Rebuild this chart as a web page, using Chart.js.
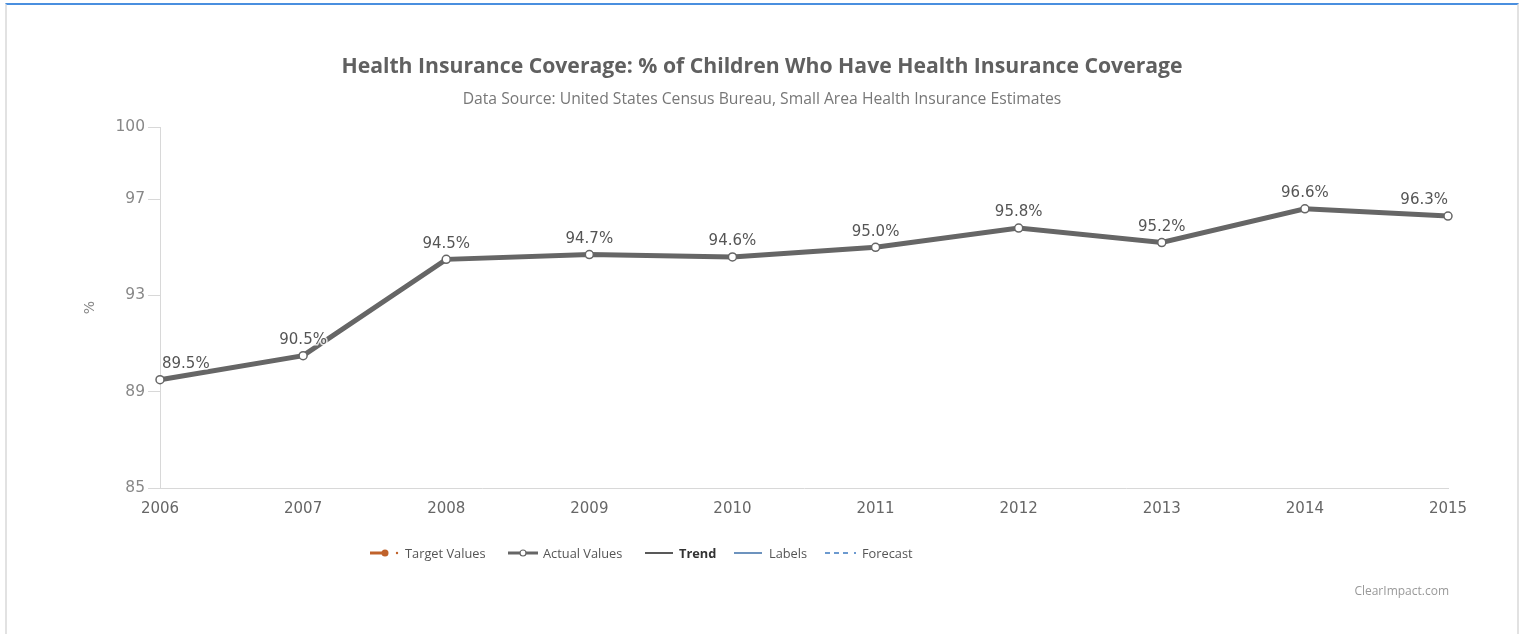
<!DOCTYPE html>
<html>
<head>
<meta charset="utf-8">
<script src="https://cdn.jsdelivr.net/npm/chart.js@4.4.1/dist/chart.umd.min.js"></script>
<style>
    html, body { margin: 0; padding: 0; background: #fff; }
    body { width: 1520px; height: 634px; position: relative; overflow: hidden; font-family: 'Open Sans', sans-serif; }
    .frame { position: absolute; left: 5px; top: 3px; width: 1510px; height: 640px; border-top: 2px solid #4a8fdf; border-left: 2px solid #e2e2e2; border-right: 2px solid #e2e2e2; }
    #chartWrap { position: absolute; left: 0; top: 0; width: 1520px; height: 634px; }
    .legend-item { position: absolute; top: 544px; display: flex; align-items: center; font-size: 12.8px; color: #555; white-space: nowrap; }
    .legend-item svg { position: absolute; top: 4px; }
    .credit { position: absolute; right: 71px; top: 582px; font-size: 12px; color: #999; }
</style>
</head>
<body>
<div class="frame"></div>
<div id="chartWrap"><canvas id="coverageChart" width="1520" height="634"></canvas></div>
<div class="legend-item" style="left:370px"><svg width="30" height="10"><line x1="0" y1="5" x2="18" y2="5" stroke="#c0622b" stroke-width="3"/><circle cx="15" cy="5" r="3.5" fill="#c0622b"/><circle cx="27" cy="5" r="1.2" fill="#c0622b"/></svg><span style="margin-left:35px">Target Values</span></div>
<div class="legend-item" style="left:508px"><svg width="32" height="10"><line x1="0" y1="5" x2="30" y2="5" stroke="#666" stroke-width="3"/><circle cx="15" cy="5" r="3" fill="#fff" stroke="#666" stroke-width="1.2"/></svg><span style="margin-left:35px">Actual Values</span></div>
<div class="legend-item" style="left:645px"><svg width="30" height="10"><line x1="0" y1="5" x2="28" y2="5" stroke="#222" stroke-width="1.5"/></svg><b style="margin-left:34px;color:#333">Trend</b></div>
<div class="legend-item" style="left:734px"><svg width="30" height="10"><line x1="0" y1="5" x2="28" y2="5" stroke="#3d6fa8" stroke-width="1.5"/></svg><span style="margin-left:35px">Labels</span></div>
<div class="legend-item" style="left:825px"><svg width="34" height="10"><line x1="0" y1="5" x2="25" y2="5" stroke="#3d79c0" stroke-width="1.5" stroke-dasharray="5,4"/><circle cx="30" cy="5" r="1" fill="#3d79c0"/></svg><span style="margin-left:37px">Forecast</span></div>
<div class="credit">ClearImpact.com</div>
<script>
    const years = ['2006', '2007', '2008', '2009', '2010', '2011', '2012', '2013', '2014', '2015'];
    const actualValues = [89.5, 90.5, 94.5, 94.7, 94.6, 95.0, 95.8, 95.2, 96.6, 96.3];
    const yTicks = [85, 89, 93, 97, 100];

    const chartTitle = 'Health Insurance Coverage: % of Children Who Have Health Insurance Coverage';
    const chartSubtitle = 'Data Source: United States Census Bureau, Small Area Health Insurance Estimates';
    const tickFont = "'DejaVu Sans', sans-serif";

    // titles + point labels drawn by hand
    const textPlugin = {
        id: 'textPlugin',
        afterDraw(chart) {
            const ctx = chart.ctx;
            ctx.save();
            ctx.textAlign = 'center';
            ctx.textBaseline = 'middle';
            ctx.fillStyle = '#606060';
            ctx.font = "bold 21.2px 'Open Sans', sans-serif";
            ctx.fillText(chartTitle, 762, 67);
            ctx.fillStyle = '#777';
            ctx.font = "15.7px 'Open Sans', sans-serif";
            ctx.fillText(chartSubtitle, 762, 100);

            // value labels
            const area = chart.chartArea;
            const meta = chart.getDatasetMeta(0);
            ctx.font = "15px " + tickFont;
            ctx.textBaseline = 'bottom';
            meta.data.forEach((pt, i) => {
                const txt = actualValues[i].toFixed(1) + '%';
                const w = ctx.measureText(txt).width;
                let x = pt.x;
                if (x - w / 2 < area.left + 2) x = area.left + 2 + w / 2;
                if (x + w / 2 > area.right) x = area.right - w / 2;
                ctx.lineWidth = 3;
                ctx.strokeStyle = 'rgba(255,255,255,0.8)';
                ctx.strokeText(txt, x, pt.y - 8);
                ctx.fillStyle = '#555';
                ctx.fillText(txt, x, pt.y - 8);
            });
            ctx.restore();
        }
    };

    new Chart(document.getElementById('coverageChart'), {
        type: 'line',
        data: {
            labels: years,
            datasets: [{
                label: 'Actual Values',
                data: actualValues,
                borderColor: '#666',
                borderWidth: 5,
                pointBackgroundColor: '#fff',
                pointBorderColor: '#666',
                pointBorderWidth: 1.5,
                pointRadius: 4,
                tension: 0
            }]
        },
        options: {
            responsive: false,
            animation: false,
            layout: { padding: { top: 127, left: 70, right: 72, bottom: 106 } },
            plugins: {
                legend: { display: false },
                tooltip: { enabled: false }
            },
            scales: {
                x: {
                    grid: { display: true, drawOnChartArea: false, drawTicks: false },
                    border: { color: '#d8d8d8' },
                    ticks: { color: '#666', font: { size: 15, family: tickFont }, padding: 12, maxRotation: 0 },
                    afterFit: (s) => { s.height = 40; }
                },
                y: {
                    min: 85,
                    max: 100,
                    afterBuildTicks: (s) => { s.ticks = yTicks.map(v => ({ value: v })); },
                    grid: { drawOnChartArea: false, tickLength: 12, color: '#d8d8d8' },
                    border: { color: '#d8d8d8' },
                    ticks: { color: '#888', font: { size: 15.5, family: tickFont }, padding: 3 },
                    title: { display: true, text: '%', color: '#888', font: { size: 14, family: tickFont }, padding: { top: 12, bottom: 0 } },
                    afterFit: (s) => { s.width = 90; }
                }
            }
        },
        plugins: [textPlugin]
    });
</script>
</body>
</html>
